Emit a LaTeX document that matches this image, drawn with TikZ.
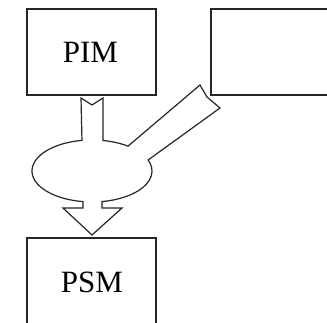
\documentclass[tikz,border=0pt]{standalone}
\usepackage{fontspec}
\setmainfont{Liberation Serif}
\begin{document}
\begin{tikzpicture}[x=1pt,y=1pt,
  boxline/.style={draw=black!85, line width=1.3pt},
  label/.style={font=\fontsize{31}{32}\selectfont, text=black},
  flow/.style={draw=black!85, line width=1.2pt, fill=white, line join=miter}]
\useasboundingbox (0,0) rectangle (327,322);
\clip (0,0) rectangle (327,322);
% the three model boxes (the right one and PSM run off the page)
\draw[boxline] (27,227) rectangle (156,313);
\node[label] (pim) at (90.5,270) {PIM};
\draw[boxline] (340,313) -- (211,313) -- (211,227) -- (340,227);
\coordinate (other) at (268,270);
\draw[boxline] (27,-10) -- (27,84) -- (156,84) -- (156,-10);
\node[label] (psm) at (92,40) {PSM};
% transformation: two inputs merge into an ellipse, one output arrow
\draw[flow]
  (81,224) -- (92,217) -- (103,224) -- (103,181.5)
  arc[start angle=79.4, end angle=53.1, x radius=60, y radius=31]
  -- (200,237) -- (207,225) -- (220,214) -- (148.1,162.0)
  arc[start angle=20.8, end angle=-80.4, x radius=60, y radius=31]
  -- (102,114) -- (122,114) -- (92,87) -- (63,114) -- (83,114) -- (83,120.4)
  arc[start angle=-98.6, end angle=-260.4, x radius=60, y radius=31]
  -- cycle;
\end{tikzpicture}
\end{document}
